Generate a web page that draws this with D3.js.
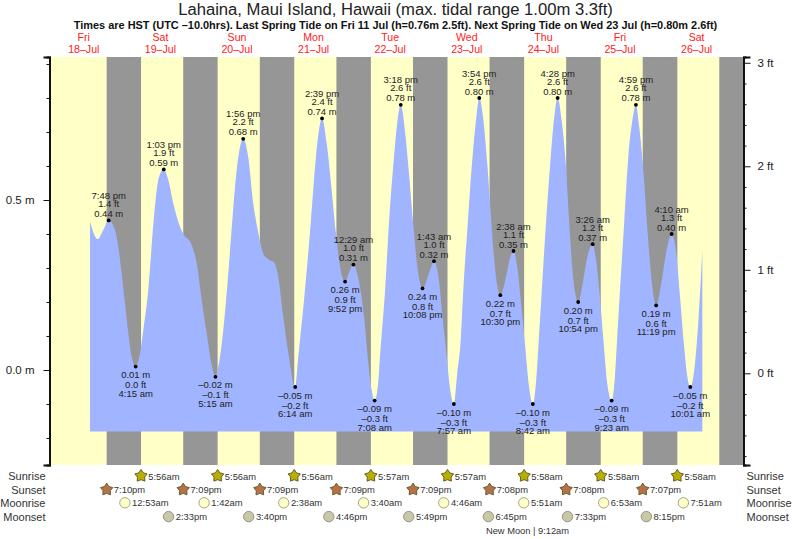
<!DOCTYPE html>
<html>
<head>
<meta charset="utf-8">
<script src="https://cdn.jsdelivr.net/npm/d3@7"></script>
<style>
body { margin:0; background:#fff; }
text { font-family:"Liberation Sans", Arial, sans-serif; }
.tide text { font-size:9.5px; fill:#222; text-anchor:middle; }
.row text { font-size:9.4px; fill:#333; }
.rowlabel { font-size:11px; fill:#333; }
.axis text { font-size:11.5px; fill:#222; }
.axis path, .axis line { stroke:#111; }
</style>
</head>
<body>
<svg id="chart" width="793" height="539"></svg>
<script>
// tide turning points, hours are worked out from day number + clock time
var tideDays = [0,1,1,2,2,3,3,3,4,4,4,4,5,5,5,5,6,6,6,6,7,7,7,7,8,8];
var tideTimes = ["7:48 pm","4:15 am","1:03 pm","5:15 am","1:56 pm","6:14 am","2:39 pm","9:52 pm","12:29 am","7:08 am","3:18 pm","10:08 pm","1:43 am","7:57 am","3:54 pm","10:30 pm","2:38 am","8:42 am","4:28 pm","10:54 pm","3:26 am","9:23 am","4:59 pm","11:19 pm","4:10 am","10:01 am"];
var tideMetres = [0.44,0.01,0.59,-0.02,0.68,-0.05,0.74,0.26,0.31,-0.09,0.78,0.24,0.32,-0.10,0.80,0.22,0.35,-0.10,0.80,0.20,0.37,-0.09,0.78,0.19,0.40,-0.05];
var tideFeet = ["1.4","0.0","1.9","–0.1","2.2","–0.2","2.4","0.9","1.0","–0.3","2.6","0.8","1.0","–0.3","2.6","0.7","1.1","–0.3","2.6","0.7","1.2","–0.3","2.6","0.6","1.3","–0.2"];
var tideHigh = [1,0,1,0,1,0,1,0,1,0,1,0,1,0,1,0,1,0,1,0,1,0,1,0,1,0];

var curveHours = [13.94,16.35,18.1,21.77,22.8,23.87,24.9,25.95,27.0,29.6,30.65,32.2,33.8,34.5,35.56,38.47,40.05,41.6,43.2,45.8,47.37,48.94,50.5,52.07,54.15,55.7,57.1,58.3,59.9,63.5,65.1,66.7,68.2,69.8,71.6,72.9,74.5,76.1,79.2,81.3,83.1,84.75,88.1,89.67,91,92.3,95.2,98,99.8,101.15,102.2,104.3,104.8,106.4,107.6,109.2,110.2,112.6,113.7,115.2,116.5,120.5,123.1,124.4,125.7,126.8,129,130.1,130.9,132.3,133.8,134.9,137.2,138.4,139.5,140.5,141.6,144.3,145.5,147.8,148.9,150.2,151.5,153.9,154.6,155.5,156.8,158.3,159.3,161.7,163,164.1,165.4,168.5,169.8,172.5,173.7,174.8,176,178.4,179.2,180,181.3,182.6,183.9,186,187.3,188.6,189.9,193.1,194.6,197.5,198.8,200,201.1,203.5,204.5,205.8];
var curveMetres = [0.436,0.385,0.412,0.412,0.363,0.284,0.196,0.108,0.039,0.049,0.118,0.235,0.431,0.5,0.568,0.559,0.49,0.436,0.40,0.368,0.314,0.206,0.108,0.015,0.01,0.118,0.265,0.412,0.588,0.627,0.49,0.402,0.343,0.326,0.317,0.275,0.157,0.049,0.039,0.235,0.431,0.627,0.667,0.529,0.402,0.304,0.289,0.27,0.157,0.02,-0.059,-0.03,0.039,0.235,0.431,0.627,0.725,0.706,0.598,0.431,0.304,0.294,0.275,0.157,0.039,-0.059,-0.01,0.088,0.235,0.431,0.627,0.735,0.735,0.608,0.461,0.333,0.245,0.275,0.328,0.304,0.206,0.079,-0.049,-0.01,0.098,0.235,0.431,0.627,0.735,0.735,0.608,0.431,0.265,0.265,0.333,0.324,0.216,0.088,-0.039,-0.02,0.108,0.235,0.431,0.627,0.735,0.716,0.588,0.412,0.265,0.265,0.353,0.353,0.216,0.079,-0.02,0.02,0.137,0.353];
var areaFloor = -0.181;

var dayNames = ["Fri","Sat","Sun","Mon","Tue","Wed","Thu","Fri","Sat"];
var dayDates = ["18–Jul","19–Jul","20–Jul","21–Jul","22–Jul","23–Jul","24–Jul","25–Jul","26–Jul"];

var sunriseDays = [1,2,3,4,5,6,7,8];
var sunriseTimes = ["5:56am","5:56am","5:56am","5:57am","5:57am","5:58am","5:58am","5:58am"];
var sunsetDays = [0,1,2,3,4,5,6,7];
var sunsetTimes = ["7:10pm","7:09pm","7:09pm","7:09pm","7:09pm","7:08pm","7:08pm","7:07pm"];
var lastSunset = "7:07pm"; // 26 Jul, band only, no label in the picture
var moonriseDays = [1,2,3,4,5,6,7,8];
var moonriseTimes = ["12:53am","1:42am","2:38am","3:40am","4:46am","5:51am","6:53am","7:51am"];
var moonsetDays = [1,2,3,4,5,6,7];
var moonsetTimes = ["2:33pm","3:40pm","4:46pm","5:49pm","6:45pm","7:33pm","8:15pm"];

var metreMajor = [0,0.5];
var metreMinor = [-0.2,-0.1,0.1,0.2,0.3,0.4,0.6,0.7,0.8,0.9];
var feetMajor = [0,1,2,3];
var feetMinor = [-0.8,-0.6,-0.4,-0.2,0.2,0.4,0.6,0.8,1.2,1.4,1.6,1.8,2.2,2.4,2.6,2.8];

var hourOf = function(day, clock)
{
    var m = clock.match(/(\d+):(\d+)\s*(am|pm)/);
    return day*24 + (+m[1] % 12) + (m[3]=="pm" ? 12 : 0) + (+m[2])/60;
}

var plot = {left:50, right:743, top:57, bottom:465};

var xScale = d3.scaleLinear().domain([0,24]).range([45.5,122.1]);
var yMetre = d3.scaleLinear().domain([-0.2794,0.9206]).range([plot.bottom,plot.top]);
var yFeet = d3.scaleLinear().domain([-0.886,3.056]).range([plot.bottom,plot.top]);

var svg = d3.select("#chart");

// title block
svg.append("text").text("Lahaina, Maui Island, Hawaii (max. tidal range 1.00m 3.3ft)")
    .attr("x",395.5).attr("y",15).attr("text-anchor","middle")
    .style("font-size","16.65px").style("fill","#222");
svg.append("text").text("Times are HST (UTC –10.0hrs). Last Spring Tide on Fri 11 Jul (h=0.76m 2.5ft). Next Spring Tide on Wed 23 Jul (h=0.80m 2.6ft)")
    .attr("x",395.5).attr("y",29).attr("text-anchor","middle")
    .style("font-size","10.95px").style("font-weight","bold").style("fill","#111");

dayNames.forEach(function(name,i)
{
    var cx = xScale(i*24+12);
    svg.append("text").text(name).attr("x",cx).attr("y",40.5).attr("text-anchor","middle")
        .style("font-size","10.6px").style("fill","#ff2020");
    svg.append("text").text(dayDates[i]).attr("x",cx).attr("y",53).attr("text-anchor","middle")
        .style("font-size","10.6px").style("fill","#ff2020");
});

// day and night bands
svg.append("rect").attr("x",plot.left).attr("y",plot.top)
    .attr("width",plot.right-plot.left).attr("height",plot.bottom-plot.top)
    .attr("fill","#ffffc8");

var nightStarts = sunsetDays.map(function(d,i){ return hourOf(d,sunsetTimes[i]); }).concat([hourOf(8,lastSunset)]);
var nightEnds = sunriseDays.map(function(d,i){ return hourOf(d,sunriseTimes[i]); }).concat([xScale.invert(plot.right)]);

svg.append("g").selectAll("rect").data(nightStarts).enter().append("rect")
    .attr("x",function(d){ return xScale(d); })
    .attr("y",plot.top)
    .attr("width",function(d,i){ return xScale(nightEnds[i])-xScale(d); })
    .attr("height",plot.bottom-plot.top)
    .attr("fill","#969696");

// tide curve, measured points and turning points merged in time order
var tideHours = tideDays.map(function(d,i){ return hourOf(d,tideTimes[i]); });
var curve = curveHours.map(function(h,i){ return {h:h, m:curveMetres[i]}; })
    .concat(tideHours.map(function(h,i){ return {h:h, m:tideMetres[i]}; }))
    .sort(function(a,b){ return a.h-b.h; });

var area = d3.area()
    .x(function(d){ return xScale(d.h); })
    .y0(yMetre(areaFloor))
    .y1(function(d){ return yMetre(d.m); })
    .curve(d3.curveMonotoneX);

svg.append("path").datum(curve).attr("d",area).attr("fill","#a0b4ff");

// turning point dots and labels
var tide = svg.append("g").classed("tide",true).selectAll("g").data(tideHours).enter().append("g")
    .attr("transform",function(h,i){ return "translate("+xScale(h)+","+yMetre(tideMetres[i])+")"; });

tide.append("circle").attr("r",1.9).attr("fill","#000");
tide.append("text")
    .attr("y",function(h,i){ return tideHigh[i] ? -3.5 : 11.5; })
    .text(function(h,i){ return String(d3.format(".2f")(tideMetres[i])).replace("-","–").replace("−","–")+" m"; });
tide.append("text")
    .attr("y",function(h,i){ return tideHigh[i] ? -13.5 : 21.5; })
    .text(function(h,i){ return tideFeet[i]+" ft"; });
tide.append("text")
    .attr("y",function(h,i){ return tideHigh[i] ? -21.5 : 30; })
    .text(function(h,i){ return tideTimes[i]; });

// axes
var leftMinor = d3.axisLeft(yMetre).tickValues(metreMinor).tickSize(3).tickFormat("");
var leftMajor = d3.axisLeft(yMetre).tickValues(metreMajor).tickSize(6).tickPadding(9)
    .tickFormat(function(d){ return d3.format(".1f")(d)+" m"; });
var rightMinor = d3.axisRight(yFeet).tickValues(feetMinor).tickSize(3).tickFormat("");
var rightMajor = d3.axisRight(yFeet).tickValues(feetMajor).tickSize(7).tickPadding(7)
    .tickFormat(function(d){ return d+" ft"; });

[leftMinor,leftMajor].forEach(function(a)
{
    svg.append("g").classed("axis",true).attr("transform","translate("+(plot.left-0.5)+",0)").call(a)
        .select(".domain").attr("stroke-width",2);
});
[rightMinor,rightMajor].forEach(function(a)
{
    svg.append("g").classed("axis",true).attr("transform","translate("+(plot.right+0.5)+",0)").call(a)
        .select(".domain").attr("stroke-width",2);
});

// sun and moon rows
var rowLabels = ["Sunrise","Sunset","Moonrise","Moonset"];
var rowY = [475.9,489.6,502.8,516.6];

rowLabels.forEach(function(label,i)
{
    svg.append("text").classed("rowlabel",true).text(label).attr("x",45.5).attr("y",rowY[i]+3.9).attr("text-anchor","end");
    svg.append("text").classed("rowlabel",true).text(label).attr("x",746.5).attr("y",rowY[i]+3.9);
});

// fat five point star, d3.symbolStar is too spiky for these markers
var fatStar = {
    draw:function(context,size)
    {
        var outer = Math.sqrt(size), inner = outer*0.58;
        for (var i=0;i<10;i++)
        {
            var r = i%2 ? inner : outer;
            var a = i*Math.PI/5;
            var px = r*Math.sin(a), py = -r*Math.cos(a);
            if (i==0) context.moveTo(px,py); else context.lineTo(px,py);
        }
        context.closePath();
    }
};
var star = d3.symbol().type(fatStar).size(42);

var drawRow = function(days,times,y,drawMark)
{
    var row = svg.append("g").classed("row",true).selectAll("g").data(times).enter().append("g")
        .attr("transform",function(t,i){ return "translate("+xScale(hourOf(days[i],t))+","+y+")"; });
    drawMark(row);
    row.append("text").text(function(t){ return t; }).attr("x",7.2).attr("y",3.6);
}

drawRow(sunriseDays,sunriseTimes,rowY[0],function(row)
{
    row.append("path").attr("d",star).attr("fill","#b8b000").attr("stroke","#665f30").attr("stroke-width",1);
});
drawRow(sunsetDays,sunsetTimes,rowY[1],function(row)
{
    row.append("path").attr("d",star).attr("fill","#b87048").attr("stroke","#665f30").attr("stroke-width",1);
});
drawRow(moonriseDays,moonriseTimes,rowY[2],function(row)
{
    row.append("circle").attr("r",5.2).attr("fill","#ffffc8").attr("stroke","#9a9a80").attr("stroke-width",0.9);
});
drawRow(moonsetDays,moonsetTimes,rowY[3],function(row)
{
    row.append("circle").attr("r",5.2).attr("fill","#c8c8a8").attr("stroke","#8a8a78").attr("stroke-width",0.9);
});

svg.append("text").text("New Moon | 9:12am").attr("x",527.5).attr("y",533.5)
    .attr("text-anchor","middle").style("font-size","9.3px").style("fill","#333");
</script>
</body>
</html>
